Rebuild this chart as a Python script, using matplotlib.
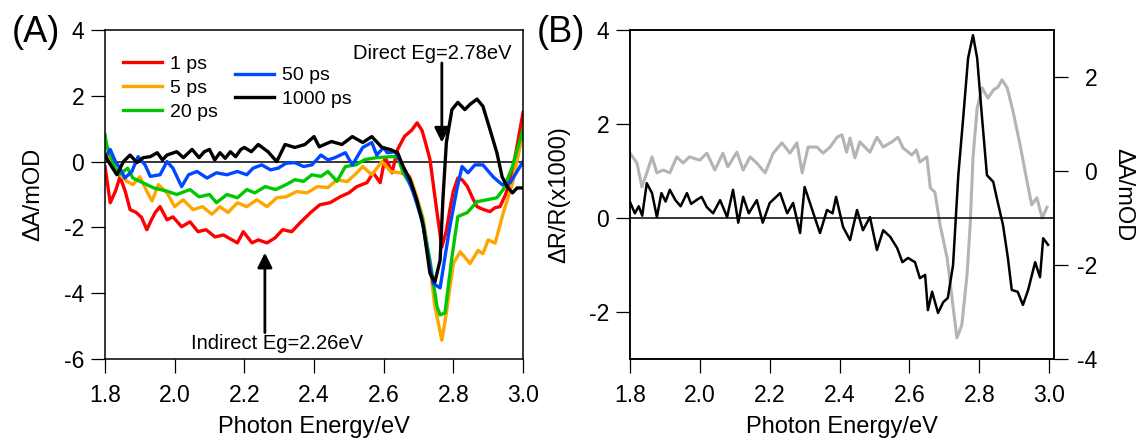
import numpy as np
import matplotlib
matplotlib.use('Agg')
import matplotlib.pyplot as plt

plt.rcParams['font.family'] = ['Liberation Sans', 'DejaVu Sans']
plt.rcParams['axes.unicode_minus'] = False

# ---- panel (A): transient absorption spectra ----
x_1ps = [1.800, 1.815, 1.830, 1.843, 1.858, 1.872, 1.890, 1.905, 1.920, 1.932, 1.944, 1.958, 1.978, 1.995,
         2.020, 2.044, 2.067, 2.090, 2.116, 2.140, 2.165, 2.180, 2.197, 2.222, 2.240, 2.265, 2.288, 2.310,
         2.336, 2.360, 2.390, 2.417, 2.446, 2.475, 2.500, 2.523, 2.552, 2.570, 2.590, 2.604, 2.615, 2.624,
         2.640, 2.660, 2.680, 2.696, 2.710, 2.720, 2.733, 2.750, 2.767, 2.780, 2.790, 2.800, 2.813, 2.825,
         2.840, 2.855, 2.868, 2.885, 2.905, 2.920, 2.934, 2.950, 2.963, 2.980, 3.000]
y_1ps = [-0.15, -1.25, -0.90, -0.46, -0.90, -1.46, -1.55, -1.70, -2.07, -1.80, -1.55, -1.37, -1.77, -1.68,
         -1.98, -1.83, -2.13, -2.07, -2.29, -2.23, -2.38, -2.47, -2.13, -2.47, -2.38, -2.47, -2.32, -2.07,
         -2.13, -1.86, -1.55, -1.31, -1.25, -1.07, -0.95, -0.76, -0.64, -0.34, -0.64, 0.12, -0.10, -0.34,
         0.37, 0.77, 0.95, 1.18, 0.95, 0.58, 0.06, -1.30, -2.60, -2.10, -1.46, -0.90, -0.50, -0.55,
         -0.75, -1.10, -1.37, -1.45, -1.52, -1.40, -1.37, -1.00, -0.55, 0.30, 1.49]

x_5ps = [1.800, 1.805, 1.830, 1.843, 1.863, 1.880, 1.900, 1.920, 1.935, 1.953, 1.978, 2.000, 2.024, 2.053,
         2.080, 2.107, 2.130, 2.153, 2.180, 2.207, 2.236, 2.265, 2.293, 2.320, 2.350, 2.380, 2.410, 2.440,
         2.466, 2.495, 2.523, 2.540, 2.566, 2.595, 2.620, 2.647, 2.675, 2.695, 2.714, 2.733, 2.747, 2.767,
         2.780, 2.800, 2.820, 2.848, 2.871, 2.885, 2.900, 2.920, 2.943, 2.970, 3.000]
y_5ps = [0.60, 0.20, -0.20, -0.40, -0.60, -0.70, -0.46, -0.90, -1.20, -0.70, -0.95, -1.37, -1.16, -1.46,
         -1.37, -1.60, -1.37, -1.55, -1.25, -1.37, -1.16, -1.37, -1.10, -1.07, -0.91, -0.95, -0.76, -0.79,
         -0.55, -0.61, -0.34, -0.15, -0.40, 0.00, -0.30, -0.34, -0.45, -1.06, -1.77, -3.20, -4.40, -5.43,
         -4.60, -3.10, -2.74, -3.10, -2.70, -2.80, -2.38, -2.48, -1.57, -0.65, 0.90]

x_20ps = [1.800, 1.805, 1.825, 1.840, 1.865, 1.880, 1.910, 1.940, 1.978, 2.006, 2.044, 2.070, 2.100, 2.120,
          2.150, 2.180, 2.207, 2.230, 2.260, 2.290, 2.320, 2.345, 2.370, 2.394, 2.420, 2.440, 2.466, 2.490,
          2.520, 2.546, 2.580, 2.620, 2.640, 2.656, 2.685, 2.710, 2.733, 2.753, 2.762, 2.776, 2.796, 2.813,
          2.840, 2.868, 2.897, 2.925, 2.943, 2.970, 3.000]
y_20ps = [0.82, 0.50, -0.10, -0.40, -0.20, -0.50, -0.65, -0.80, -0.90, -1.00, -0.85, -1.07, -1.00, -1.25,
          -1.00, -1.10, -0.85, -0.95, -0.76, -0.85, -0.70, -0.55, -0.60, -0.40, -0.45, -0.30, -0.60, -0.15,
          -0.10, 0.06, 0.12, 0.15, 0.15, -0.34, -0.85, -1.67, -3.00, -4.40, -4.66, -4.60, -2.90, -1.67,
          -1.55, -1.22, -1.16, -1.10, -0.85, -0.15, 0.98]

x_50ps = [1.800, 1.815, 1.830, 1.843, 1.857, 1.877, 1.895, 1.915, 1.930, 1.958, 1.978, 1.995, 2.020, 2.040,
          2.064, 2.093, 2.120, 2.150, 2.180, 2.207, 2.225, 2.250, 2.275, 2.297, 2.320, 2.345, 2.370, 2.394,
          2.420, 2.440, 2.460, 2.490, 2.510, 2.540, 2.566, 2.580, 2.600, 2.610, 2.633, 2.656, 2.685, 2.710,
          2.727, 2.742, 2.762, 2.776, 2.790, 2.810, 2.825, 2.842, 2.862, 2.885, 2.914, 2.940, 2.963, 2.983,
          3.000]
y_50ps = [0.12, 0.37, 0.00, -0.20, -0.50, -0.30, 0.15, -0.10, -0.45, -0.40, 0.00, -0.20, -0.76, -0.40,
          -0.30, -0.50, -0.34, -0.40, -0.30, -0.40, -0.20, -0.10, -0.25, -0.20, -0.05, -0.03, -0.15, -0.10,
          0.20, 0.05, 0.12, 0.27, -0.10, 0.43, 0.58, 0.20, 0.43, 0.27, 0.30, -0.15, -0.95, -1.77,
          -2.80, -3.70, -3.84, -2.90, -1.98, -0.85, -0.15, -0.34, -0.10, -0.10, -0.46, -0.70, -0.64, -0.30,
          0.00]

x_1000ps = [1.800, 1.810, 1.834, 1.853, 1.872, 1.892, 1.910, 1.930, 1.950, 1.965, 1.978, 2.006, 2.025, 2.050,
            2.070, 2.085, 2.100, 2.115, 2.130, 2.145, 2.160, 2.175, 2.190, 2.200, 2.220, 2.240, 2.268, 2.293,
            2.317, 2.345, 2.374, 2.400, 2.415, 2.430, 2.450, 2.480, 2.510, 2.540, 2.566, 2.595, 2.618, 2.640,
            2.656, 2.676, 2.695, 2.714, 2.733, 2.747, 2.762, 2.770, 2.780, 2.796, 2.813, 2.833, 2.848, 2.868,
            2.885, 2.905, 2.925, 2.940, 2.954, 2.970, 2.983, 3.000]
y_1000ps = [0.20, 0.00, -0.40, 0.00, 0.20, -0.03, 0.12, 0.15, 0.27, 0.05, 0.20, 0.30, 0.12, 0.37,
            0.12, 0.30, 0.37, 0.05, 0.27, 0.10, 0.30, 0.15, 0.37, 0.43, 0.30, 0.52, 0.30, 0.00,
            0.52, 0.43, 0.52, 0.76, 0.45, 0.52, 0.61, 0.52, 0.76, 0.58, 0.76, 0.43, 0.37, 0.27,
            -0.15, -0.55, -1.16, -1.98, -3.40, -3.66, -3.00, -1.16, 0.58, 1.58, 1.80, 1.58, 1.74, 1.90,
            1.68, 0.98, 0.27, -0.46, -0.76, -0.95, -0.80, -0.80]

# ---- panel (B): reflectance (left axis) and 1000 ps absorption (right axis) ----
x_refl = [1.800, 1.814, 1.825, 1.835, 1.848, 1.863, 1.877, 1.890, 1.902, 1.914, 1.930, 1.945, 1.963, 1.975,
          1.990, 2.005, 2.020, 2.038, 2.058, 2.078, 2.095, 2.110, 2.124, 2.140, 2.163, 2.180, 2.200, 2.230,
          2.250, 2.267, 2.287, 2.300, 2.325, 2.344, 2.364, 2.380, 2.390, 2.410, 2.430, 2.450, 2.467, 2.487,
          2.507, 2.525, 2.545, 2.565, 2.580, 2.596, 2.616, 2.630, 2.645, 2.653, 2.665, 2.682, 2.697, 2.710,
          2.725, 2.740, 2.754, 2.768, 2.782, 2.794, 2.808, 2.822, 2.840, 2.850, 2.868, 2.882, 2.893, 2.910,
          2.925, 2.940, 2.960, 2.974, 2.983, 2.997]
y_refl = [0.34, 0.10, 0.25, 0.05, 0.74, 0.53, 0.02, 0.53, 0.35, 0.60, 0.38, 0.25, 0.53, 0.30,
          0.38, 0.45, 0.23, 0.10, 0.38, 0.02, 0.60, -0.10, 0.45, 0.10, 0.38, -0.10, 0.32, 0.53,
          0.10, 0.32, -0.32, 0.66, 0.10, -0.32, 0.17, 0.10, 0.45, -0.19, -0.47, 0.17, -0.26, 0.02,
          -0.68, -0.26, -0.40, -0.64, -0.94, -0.85, -0.94, -1.28, -1.21, -1.96, -1.57, -2.02, -1.79, -1.70,
          -1.00, 0.91, 2.13, 3.40, 3.89, 3.40, 2.13, 0.91, 0.77, 0.43, -0.15, -0.85, -1.53, -1.57,
          -1.85, -1.53, -0.94, -1.26, -0.43, -0.57]

x_abs = [1.800, 1.820, 1.834, 1.848, 1.863, 1.877, 1.895, 1.914, 1.934, 1.952, 1.970, 2.000, 2.020, 2.043,
         2.066, 2.080, 2.106, 2.124, 2.144, 2.163, 2.187, 2.210, 2.235, 2.258, 2.278, 2.293, 2.310, 2.335,
         2.353, 2.373, 2.393, 2.407, 2.420, 2.430, 2.444, 2.458, 2.487, 2.507, 2.525, 2.550, 2.567, 2.582,
         2.607, 2.620, 2.630, 2.650, 2.660, 2.673, 2.688, 2.708, 2.722, 2.736, 2.750, 2.765, 2.774, 2.782,
         2.794, 2.808, 2.825, 2.840, 2.854, 2.865, 2.880, 2.897, 2.917, 2.937, 2.950, 2.965, 2.980, 2.994]
y_abs = [0.38, 0.17, -0.34, -0.04, 0.30, -0.04, 0.02, -0.04, 0.30, 0.17, 0.30, 0.23, 0.38, 0.02,
         0.38, 0.09, 0.40, 0.02, 0.30, 0.17, -0.04, 0.38, 0.60, 0.38, 0.60, -0.04, 0.51, 0.51,
         0.38, 0.51, 0.72, 0.77, 0.40, 0.70, 0.28, 0.62, 0.40, 0.72, 0.51, 0.62, 0.72, 0.49,
         0.34, 0.45, 0.19, 0.30, -0.36, -0.45, -1.15, -1.85, -2.70, -3.55, -3.28, -2.21, -1.15, 0.28,
         1.34, 1.77, 1.55, 1.72, 1.79, 1.94, 1.77, 1.26, 0.55, -0.23, -0.72, -0.57, -1.00, -0.77]

series_a = [
    (x_1ps, y_1ps, '1 ps', '#ff0000'),
    (x_5ps, y_5ps, '5 ps', '#ffa500'),
    (x_20ps, y_20ps, '20 ps', '#00c800'),
    (x_50ps, y_50ps, '50 ps', '#0048ff'),
    (x_1000ps, y_1000ps, '1000 ps', '#000000'),
]

fig = plt.figure(figsize=(11.38, 4.46), dpi=100)
axA = fig.add_axes([105/1138, 1-359/446, 418/1138, 329/446])
axB = fig.add_axes([630/1138, 1-359/446, 424/1138, 329/446])

tick_kw = dict(direction='out', length=10, width=0.9, labelsize=16.5, color='k')

# panel A
lines = []
for xs, ys, lab, col in series_a:
    ln, = axA.plot(xs, ys, color=col, lw=2.4, label=lab)
    lines.append(ln)
axA.axhline(0, color='k', lw=1.1, zorder=0)
axA.set_xlim(1.8, 3.0)
axA.set_ylim(-6, 4)
axA.set_xticks([1.8, 2.0, 2.2, 2.4, 2.6, 2.8, 3.0])
axA.set_yticks([-6, -4, -2, 0, 2, 4])
axA.tick_params(axis='x', pad=8, **tick_kw)
axA.tick_params(axis='y', pad=5, **tick_kw)
axA.set_xlabel('Photon Energy/eV', fontsize=17)
axA.set_ylabel('ΔA/mOD', fontsize=17)
axA.xaxis.set_label_coords(0.5, -0.172)
axA.yaxis.set_label_coords(-0.146, 0.5)

leg_kw = dict(loc='upper left', frameon=False, fontsize=14, handlelength=2.0, handletextpad=0.4,
              labelspacing=0.32, borderpad=0, borderaxespad=0)
leg1 = axA.legend(handles=lines[:3], bbox_to_anchor=(0.043, 0.922), **leg_kw)
axA.add_artist(leg1)
axA.legend(handles=lines[3:], bbox_to_anchor=(0.311, 0.888), **leg_kw)

arrow_kw = dict(arrowstyle='-|>', color='k', lw=2, mutation_scale=22, shrinkA=0, shrinkB=0)
axA.annotate('', xy=(2.767, 0.58), xytext=(2.767, 3.0), arrowprops=arrow_kw)
axA.text(2.739, 3.28, 'Direct Eg=2.78eV', fontsize=14.5, ha='center', va='center')
axA.annotate('', xy=(2.259, -2.77), xytext=(2.259, -5.2), arrowprops=arrow_kw)
axA.text(2.294, -5.52, 'Indirect Eg=2.26eV', fontsize=14.5, ha='center', va='center')

# panel B
axB.plot(x_refl, y_refl, color='k', lw=1.8, zorder=3)
axB.axhline(0, color='k', lw=1.1, zorder=4)
axB.set_xlim(1.8, 3.014)
axB.set_ylim(-3, 4)
axB.set_xticks([1.8, 2.0, 2.2, 2.4, 2.6, 2.8, 3.0])
axB.set_yticks([-2, 0, 2, 4])
axB.tick_params(axis='x', pad=8, **tick_kw)
axB.tick_params(axis='y', pad=5, **tick_kw)
axB.set_xlabel('Photon Energy/eV', fontsize=17)
axB.set_ylabel('ΔR/R(x1000)', fontsize=17)
axB.xaxis.set_label_coords(0.5, -0.172)
axB.yaxis.set_label_coords(-0.141, 0.5)

axR = axB.twinx()
axR.plot(x_abs, y_abs, color='#b4b4b4', lw=2.2)
axR.set_ylim(-4, 3)
axR.set_yticks([-4, -2, 0, 2])
axR.tick_params(axis='y', pad=21, **tick_kw)
for t in axR.get_yticklabels():
    t.set_horizontalalignment('right')
axR.set_ylabel('ΔA/mOD', fontsize=17, rotation=270, va='bottom')
axR.yaxis.set_label_coords(1.137, 0.5)
axB.set_zorder(axR.get_zorder() + 1)
axB.patch.set_visible(False)

for ax in (axA, axB, axR):
    for s in ax.spines.values():
        s.set_linewidth(1.1)

fig.text(12/1138, 1-33/446, '(A)', fontsize=26, va='center', ha='left')
fig.text(537/1138, 1-33/446, '(B)', fontsize=26, va='center', ha='left')

fig.savefig('out.png', dpi=100)
